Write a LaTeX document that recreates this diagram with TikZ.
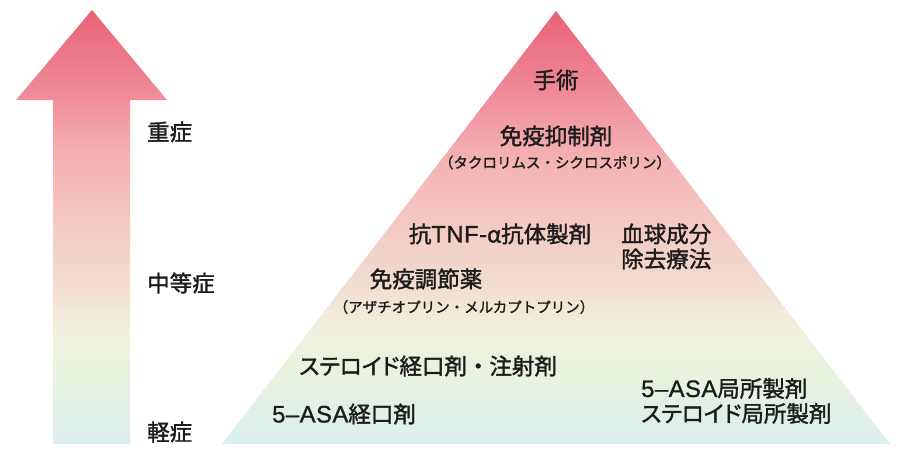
\documentclass[tikz,border=0pt]{standalone}
\usepackage{fontspec}
\setmainfont{Noto Sans CJK JP}[FakeBold=1.5]
\newfontfamily\jpp{Noto Sans CJK JP}[FakeBold=1.5,RawFeature=+palt]
\newfontfamily\lat{Liberation Sans}[FakeBold=1.0,Scale=1.06,LetterSpace=2]
\definecolor{s0}{HTML}{DCEEF1}
\definecolor{s1}{HTML}{DFEFEA}
\definecolor{s2}{HTML}{E7F2DF}
\definecolor{s3}{HTML}{EDF2DD}
\definecolor{s4}{HTML}{F1E9D9}
\definecolor{s5}{HTML}{F2DBCE}
\definecolor{s6}{HTML}{F4C5C0}
\definecolor{s7}{HTML}{F4AEB2}
\definecolor{s8}{HTML}{EE8492}
\definecolor{s9}{HTML}{EA687B}
\definecolor{s10}{HTML}{E85E74}
\definecolor{txt}{HTML}{1C1C1C}
\pgfdeclareverticalshading{sevshade}{100bp}{color(0bp)=(s0); color(25bp)=(s0); color(27.76bp)=(s1); color(32.37bp)=(s2); color(36.98bp)=(s3); color(40.44bp)=(s4); color(43.89bp)=(s5); color(51.96bp)=(s6); color(58.87bp)=(s7); color(66.94bp)=(s8); color(73.85bp)=(s9); color(75bp)=(s10); color(100bp)=(s10)}
\tikzset{
  big/.style={inner sep=0pt, text=txt, font=\fontsize{22.5}{25}\selectfont},
  small/.style={inner sep=0pt, text=txt, font=\fontsize{14.5}{16}\selectfont},
  grad/.style={shading=sevshade, draw=none}
}
\begin{document}
\begin{tikzpicture}[x=1pt,y=-1pt]
\useasboundingbox (0,0) rectangle (900,458);
% severity arrow
\path[grad] (92,10) -- (167,100) -- (130,100) -- (130,444) -- (53,444) -- (53,100) -- (16,100) -- cycle;
% pyramid
\path[grad] (556,11) -- (890,444) -- (222,444) -- cycle;
% left labels
\node[big, anchor=west] (sev) at (147,132) {重症};
\node[big, anchor=west] (mod) at (147,283) {中等症};
\node[big, anchor=west] (mild) at (147,432) {軽症};
% pyramid labels
\node[big] (surg) at (556,80) {手術};
\node[big] (immsup) at (556,136) {免疫抑制剤};
\node[small] (immsupx) at (555,162.5) {（タクロリムス・シクロスポリン）};
\node[big] (tnf) at (500,234) {抗{\lat TNF-}α抗体製剤};
\node[big, anchor=west, align=left] (cap) at (621,246.5) {血球成分\\除去療法};
\node[big] (immmod) at (426,279) {免疫調節薬};
\node[small] (immmodx) at (464,307) {（アザチオプリン・メルカプトプリン）};
\node[big, anchor=west] (ster) at (299,366) {{\jpp ステロイド}経口剤・注射剤};
\node[big, anchor=west] (asa) at (272,414) {{\lat 5–ASA}経口剤};
\node[big, anchor=west, align=left] (local) at (641,401) {{\lat 5–ASA}局所製剤\\{\jpp ステロイド}局所製剤};
\end{tikzpicture}
\end{document}
